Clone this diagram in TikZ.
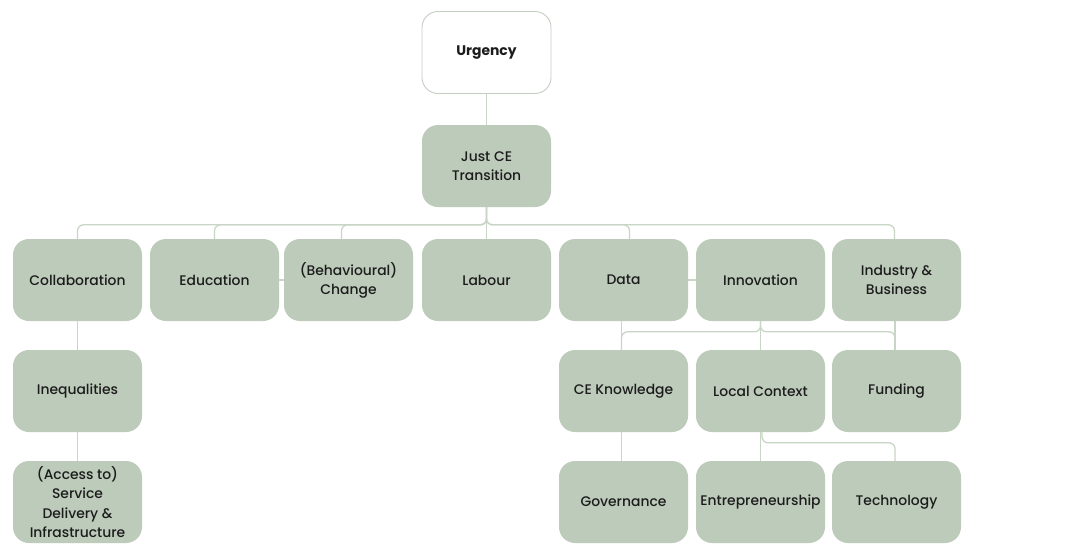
\documentclass[tikz,border=0pt]{standalone}
\usepackage{fontspec}
\setmainfont{Poppins}[UprightFont={* Medium}, BoldFont={* Bold}]
\usetikzlibrary{calc}
\definecolor{boxfill}{HTML}{BDCBBA}
\definecolor{linkcol}{HTML}{C9D5C6}
\definecolor{txt}{HTML}{1C1C1C}
\definecolor{urgborder}{HTML}{C3CEC1}
\tikzset{
  card/.style={rectangle, rounded corners=16pt, fill=boxfill, minimum width=129pt, minimum height=82pt,
    inner sep=2pt, align=center, text=txt, font=\fontsize{13.9}{19.2}\selectfont},
  topcard/.style={card, fill=white, draw=urgborder, line width=0.9pt, font=\fontsize{13.9}{19.2}\selectfont\bfseries},
  link/.style={draw=linkcol, line width=1.3pt},
  elbow/.style={link, rounded corners=6pt}
}
\begin{document}
\begin{tikzpicture}[x=1pt,y=-1pt]
\useasboundingbox (0,0) rectangle (1070,558);
% nodes
\node[topcard] (urg) at (486.5,52.5) {Urgency};
\node[card] (just) at (486.5,166) {Just CE\\Transition};
\node[card] (coll) at (77.5,280) {Collaboration};
\node[card] (edu) at (214.5,280) {Education};
\node[card] (beh) at (348.5,280) {(Behavioural)\\Change};
\node[card] (lab) at (486.5,280) {Labour};
\node[card] (data) at (623.5,280) {Data};
\node[card] (inno) at (760.5,280) {Innovation};
\node[card] (ind) at (896.5,280) {Industry \&\\Business};
\node[card] (ineq) at (77.5,391) {Inequalities};
\node[card] (cek) at (623.5,391) {CE Knowledge};
\node[card] (loc) at (760.5,391) {Local Context};
\node[card] (fund) at (896.5,391) {Funding};
\node[card] (acc) at (77.5,502) {(Access to)\\Service\\Delivery \&\\Infrastructure};
\node[card] (gov) at (623.5,502) {Governance};
\node[card] (ent) at (760.5,502) {Entrepreneurship};
\node[card] (tech) at (896.5,502) {Technology};
% connectors
\draw[link] (urg.south) -- (just.north);
\draw[link] (just.south) -- (lab.north);
\foreach \n/\dx in {coll/0, edu/0, beh/-7, data/6, ind/-2}{
  \draw[elbow] (just.south) |- ($(\n.north)+(\dx,-14)$) -- ($(\n.north)+(\dx,0)$);
}
\draw[link] (edu.east) -- (beh.west);
\draw[link] (data.east) -- (inno.west);
\draw[link] (coll.south) -- (ineq.north);
\draw[link] (ineq.south) -- (acc.north);
\draw[link] ($(data.south)+(-2,0)$) -- ($(cek.north)+(-2,0)$);
\draw[link] ($(ind.south)+(-1.5,0)$) -- ($(fund.north)+(-1.5,0)$);
\draw[link] (inno.south) -- (loc.north);
\foreach \n/\dx in {cek/-2, fund/-1.5}{
  \draw[elbow] (inno.south) |- ($(\n.north)+(\dx,-18)$) -- ($(\n.north)+(\dx,0)$);
}
\draw[link] ($(cek.south)+(-2,0)$) -- ($(gov.north)+(-2,0)$);
\draw[link] (loc.south) -- (ent.north);
\draw[elbow] ($(loc.south)+(1.5,0)$) |- ($(tech.north)+(-1.5,-18)$) -- ($(tech.north)+(-1.5,0)$);
\end{tikzpicture}
\end{document}
